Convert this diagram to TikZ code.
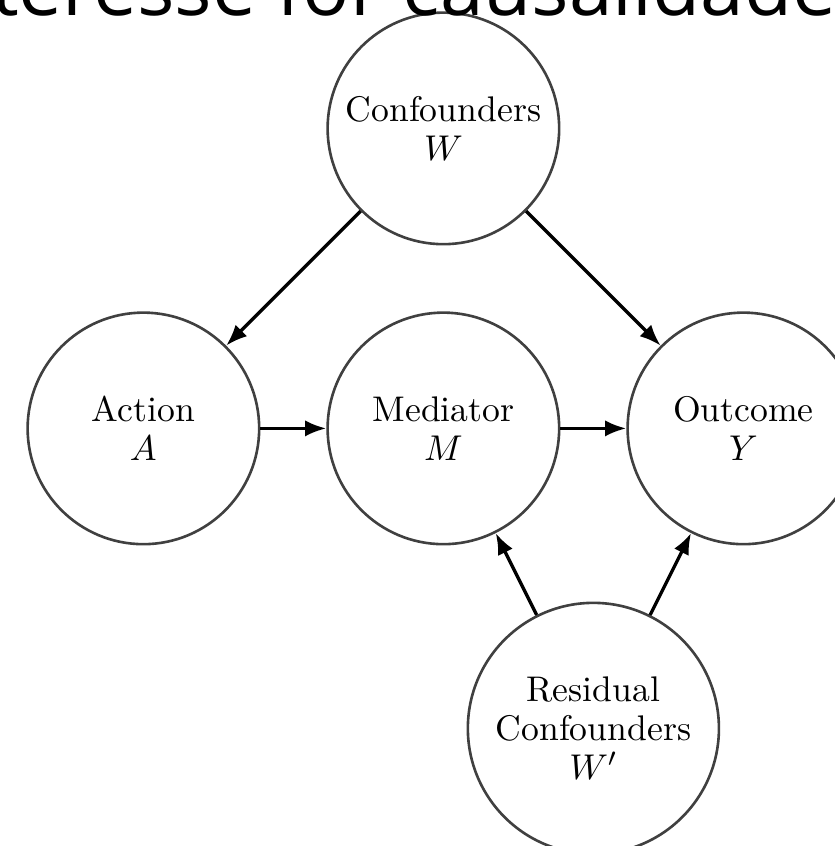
\documentclass[tikz,border=0pt]{standalone}
\usepackage{amsmath}
\usepackage{fontspec}
\newfontfamily\overlayfont{Open Sans}
\usepackage{tikz}
\usetikzlibrary{arrows.meta}
\tikzset{var/.style = {circle, draw=black!75, line width=0.8pt, align=center, minimum size=2.49cm, inner sep=1pt, font=\fontsize{10.9}{12}\selectfont}}
\tikzset{edge/.style = {-{Latex[length=6.5pt, width=5pt]}, line width=1pt}}

\begin{document}
\begin{tikzpicture}[x=3.226cm, y=3.226cm]
        \useasboundingbox (-0.478,-1.392) rectangle (2.305,1.428);
        \clip (-0.478,-1.392) rectangle (2.305,1.428);

        \node [var] (W) at (1,1) {Confounders\\$W$};
        \node [var] (A) at (0,0) {Action\\$A$};
        \node [var] (M) at (1,0) {Mediator\\$M$};
        \node [var] (Y) at (2,0) {Outcome\\$Y$};
        \node [var, minimum size=2.7cm] (R) at (1.5,-1) {Residual\\Confounders\\$W'$};

        \draw [edge] (W) -- (A);
        \draw [edge] (W) -- (Y);
        \draw [edge] (A) -- (M);
        \draw [edge] (M) -- (Y);
        \draw [edge] (R) -- (M);
        \draw [edge] (R) -- (Y);

        % cut-off heading above the picture
        \node [anchor=base west, inner sep=0pt, font=\overlayfont\fontsize{24}{28}\selectfont] (head) at (-0.51,1.376) {teresse for causalidade:};
    \end{tikzpicture}
\end{document}
